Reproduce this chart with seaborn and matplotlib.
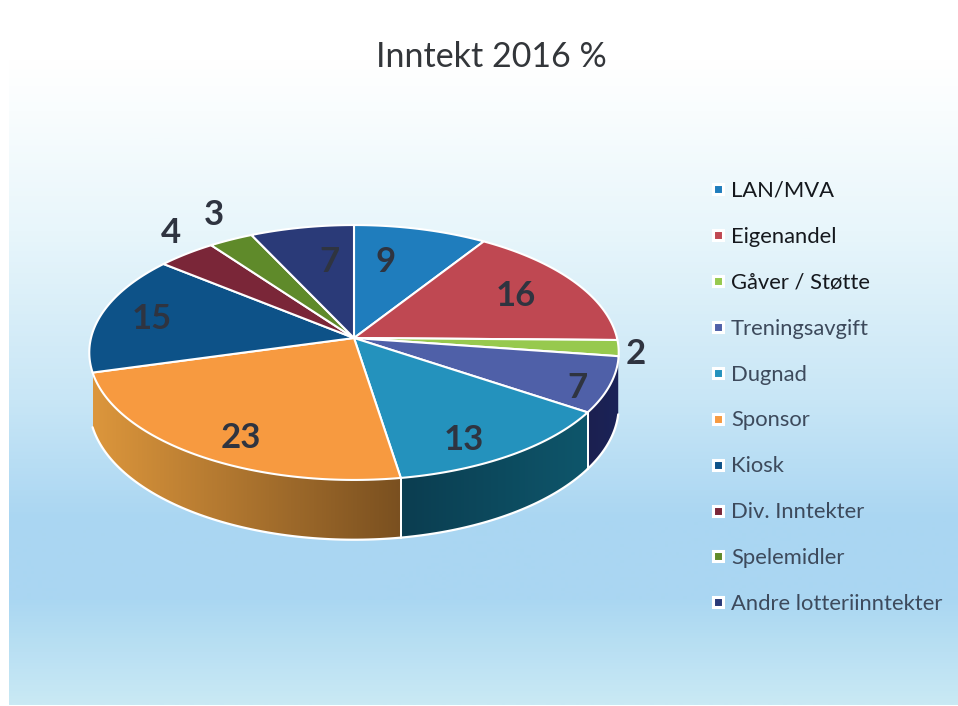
import numpy as np
import matplotlib
matplotlib.use("Agg")
import matplotlib.pyplot as plt
from matplotlib.colors import LinearSegmentedColormap
from matplotlib.lines import Line2D
from matplotlib.patches import Polygon
import seaborn as sns

# ---- data ----
categories = ["LAN/MVA", "Eigenandel", "Gåver / Støtte", "Treningsavgift", "Dugnad",
              "Sponsor", "Kiosk", "Div. Inntekter", "Spelemidler", "Andre lotteriinntekter"]
values = [9, 16, 2, 7, 13, 23, 15, 4, 3, 7]
top_colors = ["#1f7dbd", "#bf4852", "#97c94e", "#4f60a8", "#2492bd",
              "#f79a40", "#0d5288", "#7a2638", "#5f8a2a", "#2a3a78"]
side_from = [None, None, None, "#1a2358", "#0e566b", "#dc963c", None, None, None, None]
side_to = [None, None, None, "#1c2050", "#0b3d50", "#7a5020", None, None, None, None]
legend_text_colors = ["#15181d", "#15181d", "#15181d", "#3d4a5c", "#3d4a5c",
                      "#3d4a5c", "#3d4a5c", "#3d4a5c", "#3d4a5c", "#3d4a5c"]
title = "Inntekt 2016 %"
bg_pos = [0, 60, 110, 230, 400, 520, 600, 705]
bg_cols = ["#ffffff", "#ffffff", "#f9fdfe", "#e8f6fb", "#c8e6f6", "#aad6f2", "#aad7f2", "#c9e9f4"]

# ---- layout (pixel space of the figure) ----
W, H = 958, 706
CX, CY = 354, 338
RX, RY, K = 263, 125.8, 0.1137
DEPTH = 53
label_xy = [(386, 262), (516, 296), (636, 354), (577, 388), (464, 440),
            (241, 438), (152, 319), (171, 233), (214, 215), (329, 262)]

sns.set_theme(style="white")
plt.rcParams["font.family"] = ["Lato", "DejaVu Sans"]
fig = plt.figure(figsize=(W / 100, H / 100), dpi=100, facecolor="white")
ax = fig.add_axes([0, 0, 1, 1])
ax.set_xlim(0, W)
ax.set_ylim(H, 0)
ax.axis("off")


def project(theta, drop=0.0):
    """theta in degrees clockwise from 12 o'clock -> perspective pixel position."""
    t = np.radians(theta)
    u, v = np.sin(t), np.cos(t)
    s = 1 / (1 + K * v)
    return CX + RX * u * s, CY - RY * v * s + drop * s


# background
stops = [(p / 705, c) for p, c in zip(bg_pos, bg_cols)]
cmap = LinearSegmentedColormap.from_list("bg", stops)
ax.imshow(np.linspace(0, 1, 706)[:, None], cmap=cmap, aspect="auto",
          extent=(9, W, 705, 0), zorder=0, interpolation="bilinear")
ax.set_xlim(0, W)
ax.set_ylim(H, 0)

total = sum(values)
edges = np.concatenate([[0], np.cumsum(values)]) * 360 / total

# sides
for i in range(len(values)):
    if side_from[i] is None:
        continue
    a0, a1 = max(edges[i], 100), edges[i + 1]
    th = np.linspace(a0, a1, 80)
    xt, yt = project(th)
    xb, yb = project(th, DEPTH)
    px = np.concatenate([xt, xb[::-1]])
    py = np.concatenate([yt, yb[::-1]])
    poly = Polygon(np.c_[px, py], closed=True, fc="none", ec="none", transform=ax.transData)
    ax.add_patch(poly)
    grad = LinearSegmentedColormap.from_list(
        "s%d" % i, sns.blend_palette([side_from[i], side_to[i]], 16))
    xl, xr = px.min(), px.max()
    g = np.linspace(1, 0, 200)[None, :] if i != 5 else np.linspace(0, 1, 200)[None, :]
    im = ax.imshow(g, cmap=grad, aspect="auto", extent=(xl, xr, py.max(), py.min()), zorder=2)
    im.set_clip_path(poly)
    ax.plot(xb, yb, color="white", lw=1.6, zorder=3, solid_capstyle="round")
    for a in (a0, a1):
        x0, y0 = project(a)
        x1, y1 = project(a, DEPTH)
        if 100 < a < 250:
            ax.plot([x0, x1], [y0, y1], color="white", lw=1.4, zorder=3)
ax.set_xlim(0, W)
ax.set_ylim(H, 0)

# top surface
palette = sns.color_palette(top_colors)
for i, col in enumerate(palette):
    th = np.linspace(edges[i], edges[i + 1], 80)
    x, y = project(th)
    ax.fill(np.r_[CX, x], np.r_[CY, y], color=col, ec="white", lw=1.5, zorder=4,
            joinstyle="round")

# data labels
for v, (lx, ly) in zip(values, label_xy):
    ax.text(lx, ly, str(v), ha="center", va="center", fontsize=25, fontweight="bold",
            color="#2f3440", zorder=5)

ax.text(491, 57, title, ha="center", va="center", fontsize=24.5, color="#33363a", zorder=5)

# legend
handles = [Line2D([], [], ls="none", marker="s", ms=7, mfc=c, mec="white", mew=2.2)
           for c in palette]
leg = ax.legend(handles, categories, loc="upper left", bbox_to_anchor=(711.5 / W, 1 - 181 / H),
                frameon=False, fontsize=15.8, labelspacing=1.18, handlelength=0.6,
                handletextpad=0.29, borderpad=0, borderaxespad=0)
leg.set_zorder(6)
for t, c in zip(leg.get_texts(), legend_text_colors):
    t.set_color(c)

fig.savefig("out.png", dpi=100, facecolor="white")
